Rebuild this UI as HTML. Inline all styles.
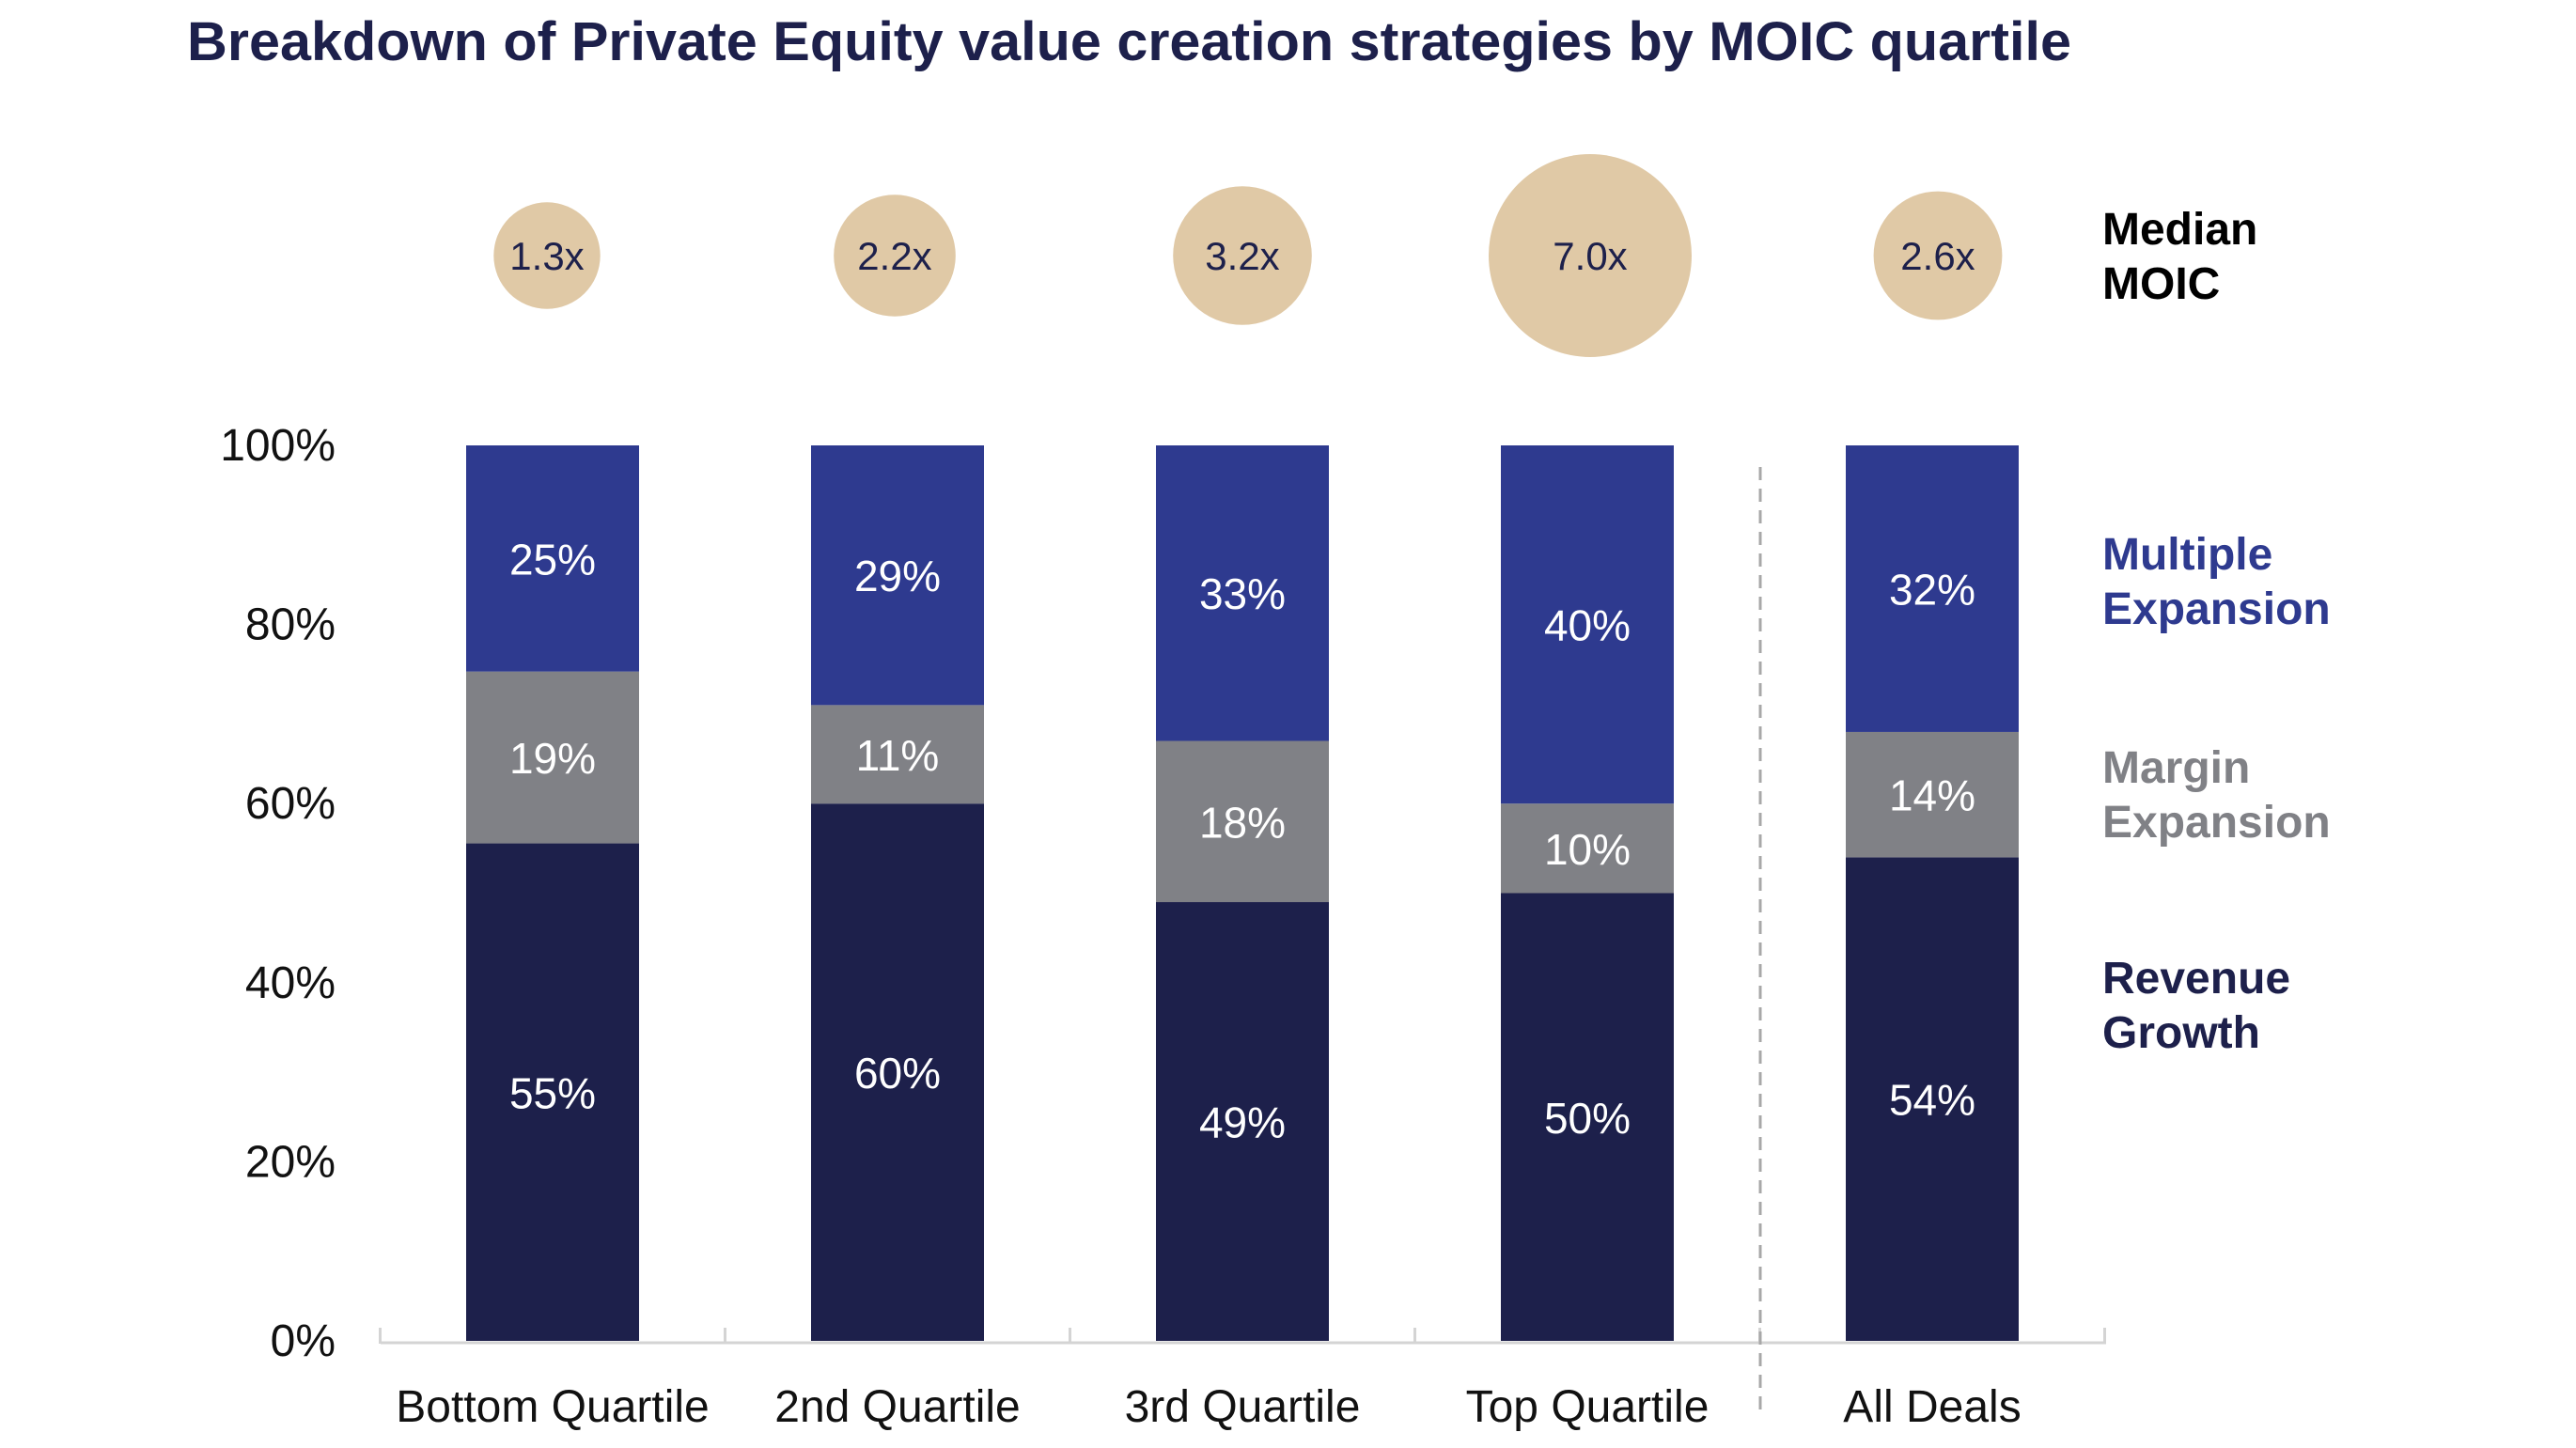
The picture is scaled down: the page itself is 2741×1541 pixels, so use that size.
<!DOCTYPE html>
<html><head><meta charset="utf-8"><style>
html,body{margin:0;padding:0;background:#fff;}
svg{display:block;font-family:"Liberation Sans",sans-serif;}
</style></head><body>
<svg id="chart" width="2741" height="1541" viewBox="0 0 2741 1541" xmlns="http://www.w3.org/2000/svg">
<text x="199" y="64" font-size="58" font-weight="bold" fill="#1d204b" textLength="2005" lengthAdjust="spacingAndGlyphs">Breakdown of Private Equity value creation strategies by MOIC quartile</text>
<g id="grid"></g><g id="bars"></g><g id="bubbles"></g>
<text font-size="48" font-weight="bold" fill="#000"><tspan x="2237" y="260">Median</tspan><tspan x="2237" y="318">MOIC</tspan></text>
<text font-size="48" font-weight="bold" fill="#2e3a8f"><tspan x="2237" y="606">Multiple</tspan><tspan x="2237" y="664">Expansion</tspan></text>
<text font-size="48" font-weight="bold" fill="#808186"><tspan x="2237" y="833">Margin</tspan><tspan x="2237" y="891">Expansion</tspan></text>
<text font-size="48" font-weight="bold" fill="#1d204b"><tspan x="2237" y="1057">Revenue</tspan><tspan x="2237" y="1115">Growth</tspan></text>
</svg>
<script>
const categories = ["Bottom Quartile","2nd Quartile","3rd Quartile","Top Quartile","All Deals"];
const revenueGrowth = [55,60,49,50,54];
const marginExpansion = [19,11,18,10,14];
const multipleExpansion = [25,29,33,40,32];
const medianMoic = [1.3,2.2,3.2,7.0,2.6];
const yTicks = [0,20,40,60,80,100];

const NS="http://www.w3.org/2000/svg";
const Y0=1427,Y100=474;
function y(v){return Y0-(Y0-Y100)*v/100;}
function xc(i){return 588+367*i;}
const BW=184;
const bubbleOffset=[-6,-3,0,3,6];
function mk(tag,attrs,parent){const e=document.createElementNS(NS,tag);for(const k in attrs)e.setAttribute(k,attrs[k]);parent.appendChild(e);return e;}
const grid=document.getElementById('grid'),bars=document.getElementById('bars'),bub=document.getElementById('bubbles');

yTicks.forEach(t=>{
  const e=mk('text',{x:357,y:y(t)+16,'font-size':48,'text-anchor':'end',fill:'#111'},grid);
  
  
  e.textContent=t+'%';
});
const ax=mk('line',{x1:405,x2:2241,y1:Y0+2,y2:Y0+2,stroke:'#d4d4d4','stroke-width':3},grid);


for(let i=0;i<=categories.length;i++){
  const tx=xc(i)-183.5;
  const tk=mk('line',{x1:tx,x2:tx,y1:Y0-14,y2:Y0+3,stroke:'#d4d4d4','stroke-width':3},grid);
  
  
}
const dl=mk('line',{x1:1873,x2:1873,y1:497,y2:1506,stroke:'#a8a8a8','stroke-width':3,'stroke-dasharray':'14,9'},grid);



categories.forEach((c,i)=>{
  const segs=[[revenueGrowth[i],'#1d204b','revenue-growth'],[marginExpansion[i],'#808186','margin-expansion'],[multipleExpansion[i],'#2e3a8f','multiple-expansion']];
  const total=segs.reduce((s,a)=>s+a[0],0);
  let cum=0;
  segs.forEach(([v,col,nm])=>{
    const v0=cum*100/total,v1=(cum+v)*100/total;cum+=v;
    const r=mk('rect',{x:xc(i)-BW/2,y:y(v1),width:BW,height:y(v0)-y(v1),fill:col},bars);
    
    
    const t=mk('text',{x:xc(i),y:(y(v0)+y(v1))/2+17,'font-size':46,'text-anchor':'middle',fill:'#fff'},bars);
    
    
    t.textContent=v+'%';
  });
  const cl=mk('text',{x:xc(i),y:1513,'font-size':48,'text-anchor':'middle',fill:'#111'},bars);
  
  
  cl.textContent=c;
  const rr=45+9*medianMoic[i];
  const cx=xc(i)+bubbleOffset[i];
  const ci=mk('circle',{cx:cx,cy:272,r:rr,fill:'#e0c9a6'},bub);
  
  
  const bt=mk('text',{x:cx,y:287,'font-size':42,'text-anchor':'middle',fill:'#1d204b'},bub);
  
  
  bt.textContent=medianMoic[i].toFixed(1)+'x';
});
</script>
</body></html>
